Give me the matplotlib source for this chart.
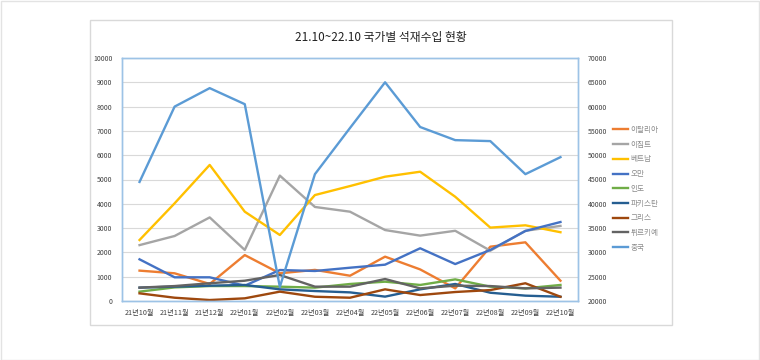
import matplotlib
matplotlib.use("Agg")
import matplotlib.pyplot as plt
from matplotlib.patches import Rectangle

plt.rcParams['font.family'] = ['Noto Sans CJK KR', 'DejaVu Sans']

months = ["21년10월", "21년11월", "21년12월", "22년01월", "22년02월", "22년03월", "22년04월",
          "22년05월", "22년06월", "22년07월", "22년08월", "22년09월", "22년10월"]

italy    = [1250, 1140, 700, 1890, 1140, 1280, 1040, 1825, 1300, 520, 2235, 2415, 835]
egypt    = [2300, 2675, 3440, 2100, 5160, 3870, 3675, 2920, 2690, 2890, 2070, 2890, 3090]
vietnam  = [2510, 4020, 5600, 3675, 2716, 4360, 4730, 5115, 5320, 4290, 3020, 3115, 2830]
oman     = [1715, 975, 975, 630, 1275, 1235, 1370, 1495, 2170, 1520, 2100, 2880, 3250]
india    = [385, 560, 615, 615, 590, 550, 700, 795, 660, 890, 590, 520, 660]
pakistan = [550, 590, 630, 660, 480, 410, 355, 180, 480, 700, 340, 220, 175]
greece   = [315, 135, 40, 110, 385, 175, 135, 480, 245, 370, 450, 730, 175]
turkey   = [550, 615, 730, 835, 1070, 590, 590, 905, 520, 630, 615, 520, 550]
china    = [44500, 60000, 63800, 60500, 22900, 46100, 55600, 65000, 55800, 53100, 52900, 46100, 49600]

left_names = ["이탈리아", "이집트", "베트남", "오만", "인도", "파키스탄", "그리스", "튀르키예"]
left_series = [italy, egypt, vietnam, oman, india, pakistan, greece, turkey]
left_colors = ["#ED7D31", "#A5A5A5", "#FFC000", "#4472C4", "#70AD47", "#255E91", "#9E480E", "#636363"]
china_name = "중국"
china_color = "#5B9BD5"

left_ticks = list(range(0, 10001, 1000))
right_ticks = list(range(20000, 70001, 5000))
title = "21.10~22.10 국가별 석재수입 현황"

fig = plt.figure(figsize=(7.6, 3.6), dpi=100)
W, H = 760, 360

# outer borders
fig.add_artist(Rectangle((0.5 / W, 0.5 / H), (W - 1.5) / W, (H - 1.5) / H, transform=fig.transFigure,
                         fill=False, edgecolor="#E3E3E3", lw=1.0))
fig.add_artist(Rectangle((90 / W, (H - 325) / H), (672 - 90) / W, (325 - 20) / H, transform=fig.transFigure,
                         fill=False, edgecolor="#D9D9D9", lw=1.0))

ax = fig.add_axes([122 / W, (H - 301) / H, 456 / W, 243 / H])
ax2 = ax.twinx()

x = list(range(len(months)))
lines = []
for name, vals, c in zip(left_names, left_series, left_colors):
    l, = ax.plot(x, vals, color=c, lw=1.7, label=name, solid_joinstyle='round')
    lines.append(l)
lc, = ax2.plot(x, china, color=china_color, lw=1.7, label=china_name, solid_joinstyle='round')
lines.append(lc)

ax.set_xlim(-0.5, len(months) - 0.5)
ax.set_ylim(0, 10000)
ax2.set_ylim(20000, 70000)
ax.set_yticks(left_ticks)
ax2.set_yticks(right_ticks)
ax.set_xticks(x)
ax.set_xticklabels(months)
ax.grid(axis='y', color="#D9D9D9", lw=0.8)
ax.set_axisbelow(True)

for a in (ax, ax2):
    for s in a.spines.values():
        s.set_color("#9DC3E6")
        s.set_linewidth(1.0)
    a.tick_params(length=0, labelsize=5, colors="#404040")
ax.tick_params(axis='y', pad=7)
ax2.tick_params(axis='y', pad=7)
ax.tick_params(axis='x', pad=6, labelsize=5.2)

leg = fig.legend(handles=lines, loc='upper left', bbox_to_anchor=(610 / W, 1 - 123 / H),
                 frameon=False, fontsize=5.5, handlelength=2.0, handletextpad=0.3,
                 labelspacing=0.88, labelcolor="#8C8C8C", borderaxespad=0)

fig.text(381 / W, 1 - 37 / H, title, ha='center', va='center', fontsize=8.5, color="#202020")

fig.savefig("out.png", dpi=100)
